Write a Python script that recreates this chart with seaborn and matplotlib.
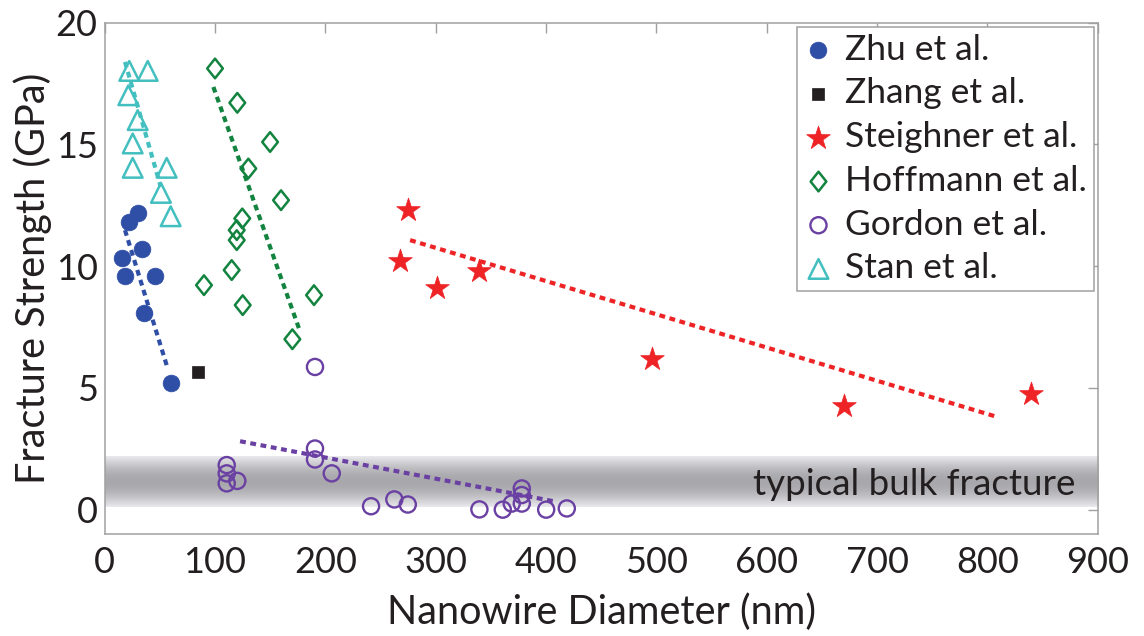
import numpy as np
import pandas as pd
import matplotlib
matplotlib.use("Agg")
import matplotlib.pyplot as plt
import seaborn as sns
from matplotlib.path import Path

# ---------------- data ----------------
zhu_d = [29.9, 22.3, 33.5, 15.4, 18.4, 45.6, 35.9, 59.8]
zhu_s = [12.19, 11.82, 10.69, 10.32, 9.59, 9.59, 8.08, 5.21]

zhang_d = [84.3]
zhang_s = [5.66]

steighner_d = [275.3, 267.7, 301.0, 339.6, 495.9, 670.2, 839.7]
steighner_s = [12.30, 10.21, 9.11, 9.79, 6.17, 4.25, 4.74]

hoffmann_d = [100.0, 120.2, 149.9, 130.2, 159.8, 124.7, 119.7, 119.7, 115.1, 90.0, 125.1, 189.7, 170.1]
hoffmann_s = [18.12, 16.71, 15.10, 14.01, 12.71, 11.96, 11.48, 11.07, 9.84, 9.22, 8.40, 8.81, 7.00]

gordon_d = [190.6, 110.6, 110.6, 110.6, 120.2, 190.6, 190.6, 205.8, 241.4, 262.5,
            274.7, 339.6, 360.8, 368.9, 378.0, 378.0, 378.0, 400.1, 418.8]
gordon_s = [5.86, 1.83, 1.49, 1.08, 1.18, 2.51, 2.06, 1.49, 0.14, 0.42,
            0.21, 0.01, 0.00, 0.25, 0.87, 0.60, 0.25, 0.00, 0.05]

stan_d = [22.3, 39.0, 21.4, 29.9, 25.4, 25.4, 56.2, 51.0, 59.8]
stan_s = [18.02, 18.02, 17.02, 16.00, 15.04, 14.04, 14.04, 13.01, 12.05]

# trend-line end points
zhu_fit_d, zhu_fit_s = [18.4, 56.2], [11.48, 5.93]
stan_fit_d, stan_fit_s = [18.4, 50.8], [18.39, 13.26]
hoffmann_fit_d, hoffmann_fit_s = [98.5, 176.1], [17.36, 7.44]
gordon_fit_d, gordon_fit_s = [122.7, 409.8], [2.81, 0.32]
steighner_fit_d, steighner_fit_s = [276.8, 808.7], [11.07, 3.81]

bulk_range = [0.11, 2.17]
bulk_label = "typical bulk fracture"

x_ticks = [0, 100, 200, 300, 400, 500, 600, 700, 800, 900]
y_ticks = [0, 5, 10, 15, 20]

# ---------------- style ----------------
sns.set_theme(style="white")
plt.rcParams['font.family'] = ['Lato', 'DejaVu Sans']
TXT = "#231f20"
FS_TICK = 26
FS_LAB = 28.5
FS_LEG = 25.5

C_ZHU = "#2f4fa6"
C_ZHANG = "#231f20"
C_STEI = "#ee2326"
C_HOFF = "#13843f"
C_GORD = "#6a41a3"
C_STAN = "#43bfbf"

fig = plt.figure(figsize=(11.44, 6.36), dpi=100)
ax = fig.add_axes([0.0915, 0.1604, 0.9596 - 0.0915, 0.9643 - 0.1604])

# bulk fracture gradient band
t = np.linspace(0, 1, 200)
v = 0.92 - 0.26 * np.sin(np.pi * t)
grad = np.stack([v, v, np.clip(v + 0.015, 0, 1)], axis=-1)[:, None, :]
ax.imshow(grad, extent=[0, 900, bulk_range[0], bulk_range[1]], aspect='auto',
          origin='lower', zorder=0, interpolation='bilinear')
ax.text(880, 1.02, bulk_label, ha='right', va='center', fontsize=26.5, color=TXT, zorder=1)

# trend lines
DASH = (0, (1.4, 1.1))
for fd, fs, c in [(zhu_fit_d, zhu_fit_s, C_ZHU), (stan_fit_d, stan_fit_s, C_STAN),
                  (hoffmann_fit_d, hoffmann_fit_s, C_HOFF), (gordon_fit_d, gordon_fit_s, C_GORD),
                  (steighner_fit_d, steighner_fit_s, C_STEI)]:
    sns.lineplot(x=fd, y=fs, ax=ax, color=c, linewidth=3, linestyle=DASH,
                 legend=False, zorder=2, dash_capstyle='butt')

diamond = Path([(0, 1), (0.8, 0), (0, -1), (-0.8, 0), (0, 1)],
               [Path.MOVETO, Path.LINETO, Path.LINETO, Path.LINETO, Path.CLOSEPOLY])

sns.scatterplot(x=zhu_d, y=zhu_s, ax=ax, marker='o', s=145, color=C_ZHU,
                edgecolor=C_ZHU, linewidth=0.5, label="Zhu et al.", zorder=3)
sns.scatterplot(x=zhang_d, y=zhang_s, ax=ax, marker='s', s=85, color=C_ZHANG,
                edgecolor=C_ZHANG, linewidth=0.5, label="Zhang et al.", zorder=3)
sns.scatterplot(x=steighner_d, y=steighner_s, ax=ax, marker='*', s=320, color=C_STEI,
                edgecolor=C_STEI, linewidth=0.5, label="Steighner et al.", zorder=3)
sns.scatterplot(x=hoffmann_d, y=hoffmann_s, ax=ax, marker=diamond, s=200, facecolor='none',
                edgecolor=C_HOFF, linewidth=1.8, label="Hoffmann et al.", zorder=3)
sns.scatterplot(x=gordon_d, y=gordon_s, ax=ax, marker='o', s=135, facecolor='none',
                edgecolor=C_GORD, linewidth=1.7, label="Gordon et al.", zorder=3)
sns.scatterplot(x=stan_d, y=stan_s, ax=ax, marker='^', s=200, facecolor='none',
                edgecolor=C_STAN, linewidth=1.8, label="Stan et al.", zorder=3)

ax.set_xlim(0, 900)
ax.set_ylim(-1, 20)
ax.set_xticks(x_ticks)
ax.set_yticks(y_ticks)
ax.tick_params(direction='in', length=7, width=1, color='#a0a0a0', labelsize=FS_TICK,
               labelcolor=TXT, top=True, right=True)
ax.tick_params(axis='x', pad=9)
ax.tick_params(axis='y', pad=5)
for sp in ax.spines.values():
    sp.set_color('#a0a0a0')
    sp.set_linewidth(1.1)
    sp.set_visible(True)

ax.set_xlabel("Nanowire Diameter (nm)", fontsize=FS_LAB, color=TXT, labelpad=10)
ax.set_ylabel("Fracture Strength (GPa)", fontsize=FS_LAB, color=TXT, labelpad=3)

leg = ax.legend(loc='upper right', bbox_to_anchor=(0.9962, 0.9922), borderaxespad=0,
                fontsize=FS_LEG, frameon=True, fancybox=False, framealpha=1,
                edgecolor='#a0a0a0', handlelength=0.8, handletextpad=0.35,
                borderpad=0.2, labelspacing=0.33)
leg.get_frame().set_linewidth(1.1)
for txt in leg.get_texts():
    txt.set_color(TXT)

fig.savefig("out.png", dpi=100)
